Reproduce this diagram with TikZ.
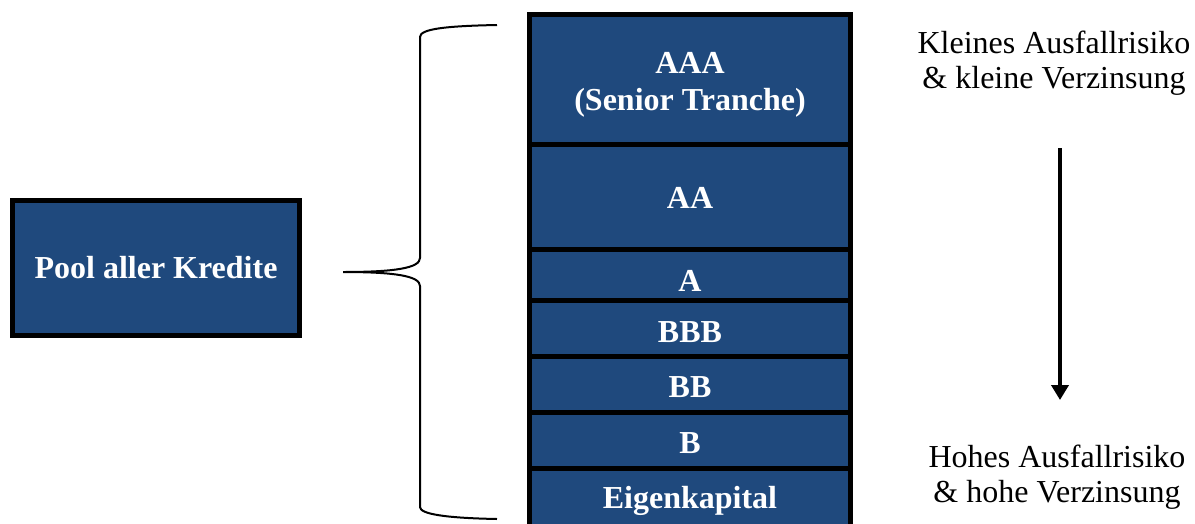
\documentclass[tikz,border=0pt]{standalone}
\usepackage{fontspec}
\setmainfont{Liberation Serif}
\usetikzlibrary{arrows.meta}
\definecolor{tblue}{HTML}{1F497D}
\begin{document}
\begin{tikzpicture}[x=1pt,y=-1pt,
  box/.style={draw=black, line width=5pt, fill=tblue, inner sep=0pt, minimum width=321pt},
  lbl/.style={text=white, font=\bfseries\fontsize{32}{35}\selectfont, anchor=base, inner sep=0pt},
  side/.style={font=\fontsize{32}{35}\selectfont, align=center, anchor=north, inner sep=0pt},
  brace/.style={draw=black, line width=2pt},
  risk/.style={draw=black, line width=4pt, -{Triangle[width=17pt,length=15pt]}}]
\useasboundingbox (0,0) rectangle (1195,523);
\clip (0,0) rectangle (1195,523);
% pool
\node[box, minimum width=287pt, minimum height=135pt, text=white,
      font=\bfseries\fontsize{32}{35}\selectfont] (pool) at (156,268) {Pool aller Kredite};
% tranches
\node[box, minimum height=129.5pt] (aaa) at (690,79.25) {};
\node[box, minimum height=105pt] (aa) at (690,196.5) {};
\node[box, minimum height=51pt] (a) at (690,274.5) {};
\node[box, minimum height=56pt] (bbb) at (690,328) {};
\node[box, minimum height=56pt] (bb) at (690,384) {};
\node[box, minimum height=56pt] (b) at (690,440) {};
\node[box, minimum height=72pt] (ek) at (690,504) {};
\node[lbl] (taaa) at (690,73) {AAA};
\node[lbl] (tsen) at (690,110) {(Senior Tranche)};
\node[lbl] (taa) at (690,208) {AA};
\node[lbl] (ta) at (690,291) {A};
\node[lbl] (tbbb) at (690,342) {BBB};
\node[lbl] (tbb) at (690,397) {BB};
\node[lbl] (tb) at (690,453) {B};
\node[lbl] (tek) at (690,508) {Eigenkapital};
% brace
\coordinate (btop) at (497,25);
\coordinate (btip) at (343,272);
\coordinate (bbot) at (497,519);
\draw[brace] (btop) .. controls (445,26) and (420,29) .. (420,37) -- (420,258)
  .. controls (420,268) and (395,272) .. (btip)
  .. controls (395,272) and (420,276) .. (420,286) -- (420,507)
  .. controls (420,514) and (445,518) .. (bbot);
% side texts
\node[side] (low) at (1054,31) {Kleines Ausfallrisiko\\\& kleine Verzinsung};
\node[side] (high) at (1057,445) {Hohes Ausfallrisiko\\\& hohe Verzinsung};
\coordinate (atop) at (1060,148);
\coordinate (abot) at (1060,400);
\draw[risk] (atop) -- (abot);
\end{tikzpicture}
\end{document}
